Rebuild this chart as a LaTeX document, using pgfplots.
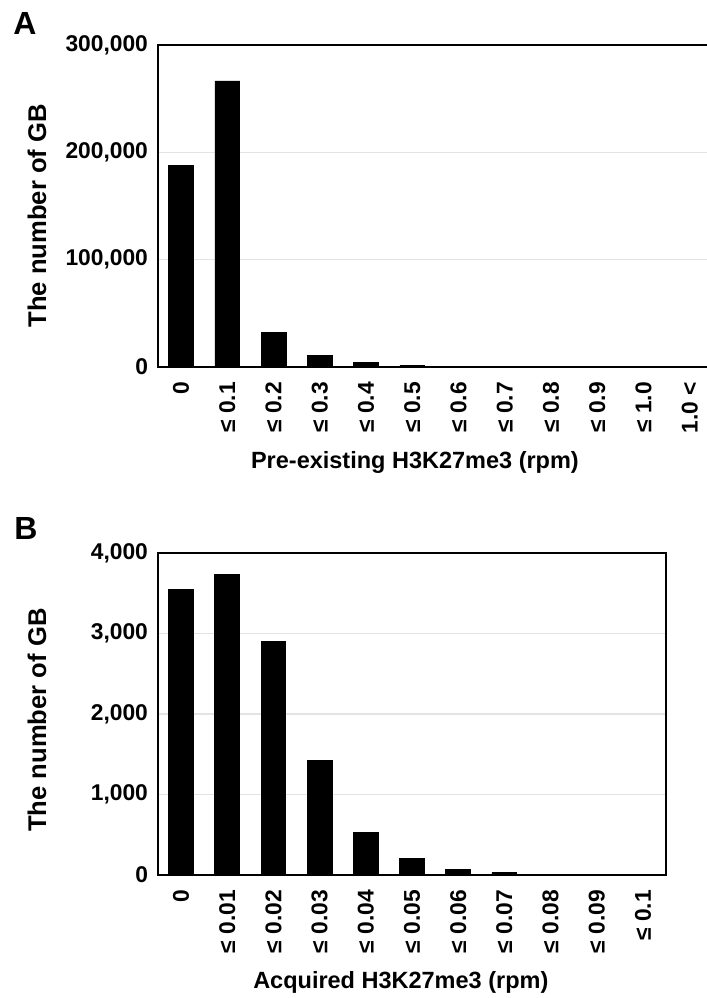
\documentclass[border=0pt]{standalone}
\usepackage{fontspec}
\setmainfont{Liberation Sans}
\usepackage{pgfplots}
\pgfplotsset{compat=1.18}
\pgfplotsset{
  gbstyle/.style={
    scale only axis,
    anchor=north west,
    height=161pt,
    ybar, bar width=12.4pt,
    ymin=0,
    xmin=-0.5,
    xtick=data,
    scaled y ticks=false,
    major tick length=0pt,
    ymajorgrids,
    grid style={gray!22, line width=0.6pt},
    axis line style={black, line width=1pt},
    tick label style={font=\fontsize{11.4}{13}\selectfont\bfseries},
    yticklabel style={xshift=-1.5pt},
    xticklabel style={rotate=90, anchor=east},
    xticklabel shift=4pt,
    xlabel style={anchor=center, font=\fontsize{11.75}{14}\selectfont\bfseries},
    ylabel style={anchor=center, font=\fontsize{12.8}{15}\selectfont\bfseries},
  }
}
\begin{document}
\begin{tikzpicture}
\useasboundingbox (0,0) rectangle (353.5pt,-499pt);
\node[font=\fontsize{16}{18}\selectfont\bfseries] at (12.5pt,-11.5pt) {A};
\node[font=\fontsize{16}{18}\selectfont\bfseries] at (13pt,-264pt) {B};
\begin{axis}[gbstyle,
  at={(79pt,-22.5pt)},
  width=277.5pt,
  xmax=11.5,
  ymax=300000,
  ytick={0,100000,200000,300000},
  yticklabels={0,{100,000},{200,000},{300,000}},
  xticklabels={0,{≤ 0.1},{≤ 0.2},{≤ 0.3},{≤ 0.4},{≤ 0.5},{≤ 0.6},{≤ 0.7},{≤ 0.8},{≤ 0.9},{≤ 1.0},{1.0 <}},
  xlabel={Pre-existing H3K27me3 (rpm)},
  ylabel={The number of GB},
  xlabel style={at={(axis description cs:0.463,-0.298)}},
  ylabel style={at={(axis description cs:-0.218,0.47)}},
]
\addplot[fill=black, draw=black] coordinates {
(0,188000) (1,266500) (2,32000) (3,11000) (4,4000) (5,1500)
(6,600) (7,300) (8,150) (9,100) (10,60) (11,100)};
\end{axis}
\begin{axis}[gbstyle,
  at={(79pt,-276.5pt)},
  width=254pt,
  xmax=10.5,
  ymax=4000,
  ytick={0,1000,2000,3000,4000},
  yticklabels={0,{1,000},{2,000},{3,000},{4,000}},
  xticklabels={0,{≤ 0.01},{≤ 0.02},{≤ 0.03},{≤ 0.04},{≤ 0.05},{≤ 0.06},{≤ 0.07},{≤ 0.08},{≤ 0.09},{≤ 0.1}},
  xlabel={Acquired H3K27me3 (rpm)},
  ylabel={The number of GB},
  xlabel style={at={(axis description cs:0.478,-0.335)}},
  ylabel style={at={(axis description cs:-0.238,0.481)}},
]
\addplot[fill=black, draw=black] coordinates {
(0,3545) (1,3739) (2,2904) (3,1423) (4,530) (5,207)
(6,70) (7,33) (8,6) (9,3) (10,1)};
\end{axis}
\end{tikzpicture}
\end{document}
